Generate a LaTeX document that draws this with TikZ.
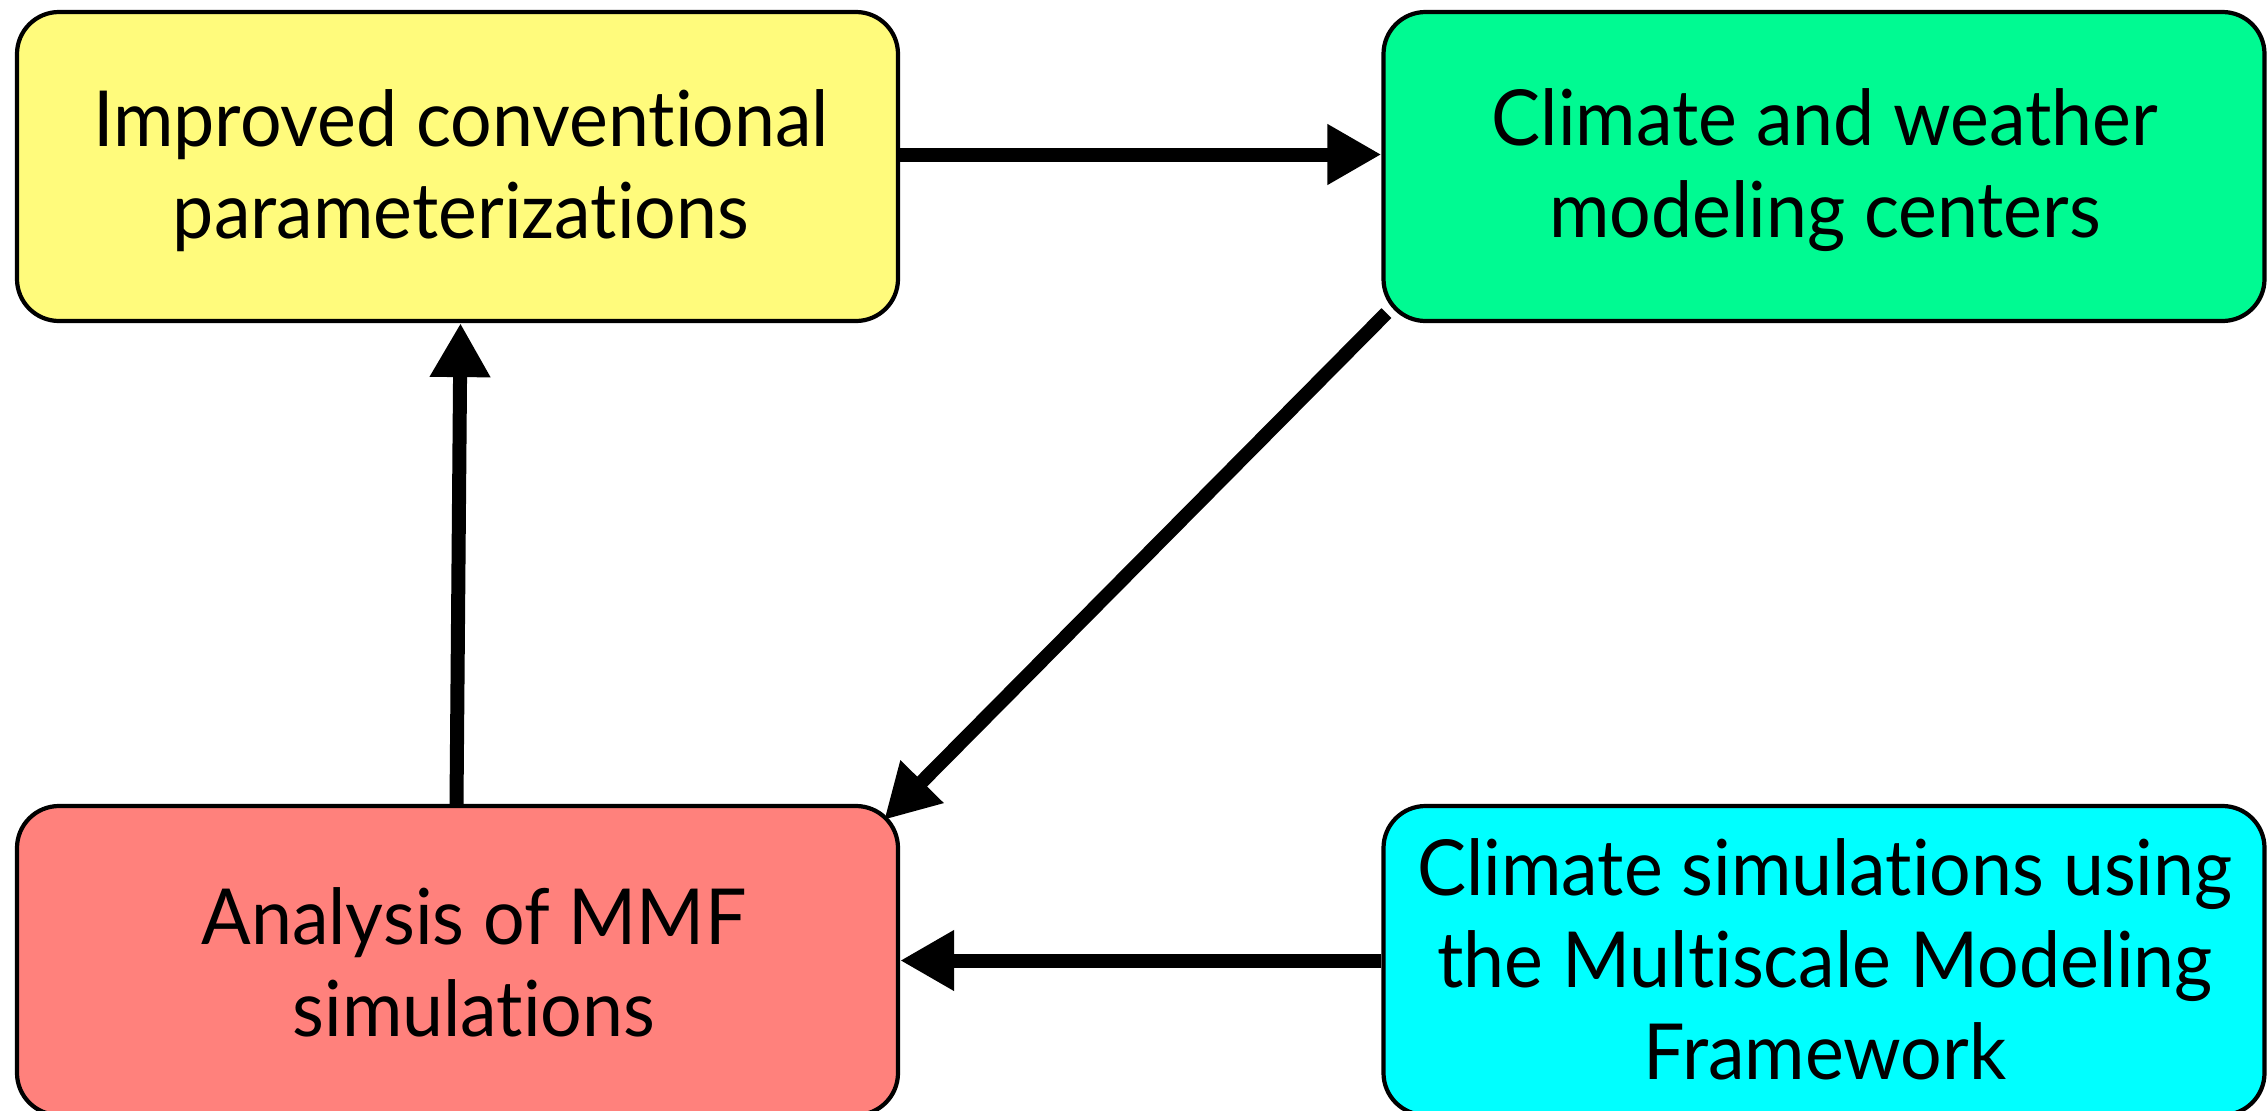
\documentclass[tikz,border=0pt]{standalone}
\usepackage{fontspec}
\setmainfont{Lato}[FakeStretch=0.95, Ligatures=CommonOff]
\usetikzlibrary{arrows.meta}
\definecolor{cyel}{HTML}{FFFB7C}
\definecolor{cgrn}{HTML}{00FA92}
\definecolor{cred}{HTML}{FF817C}
\definecolor{ccya}{HTML}{00FFFF}
\begin{document}
\begin{tikzpicture}[x=1cm,y=1cm,
  box/.style={draw=black, line width=1.2pt, rounded corners=0.42cm, minimum width=8.81cm, minimum height=3.09cm, inner sep=0pt},
  lbl/.style={align=center, font=\fontsize{22}{26.2}\selectfont, inner sep=0pt},
  arr/.style={line width=0.14cm, -{Triangle[length=0.54cm,width=0.57cm]}}]
\useasboundingbox (0,0) rectangle (22.68,-11.11);
\node[box, fill=cyel] (yel) at (4.575,-1.665) {};
\node[box, fill=cgrn] (grn) at (18.24,-1.665) {};
\node[box, fill=cred] (red) at (4.575,-9.605) {};
\node[box, fill=ccya] (cya) at (18.24,-9.605) {};
\node[lbl] (yeltxt) at (4.61,-1.705) {Improved conventional\\parameterizations};
\node[lbl] (grntxt) at (18.25,-1.705) {Climate and weather\\modeling centers};
\node[lbl] (redtxt) at (4.74,-9.62) {Analysis of MMF\\simulations};
\node[lbl] (cyatxt) at (18.25,-9.59) {Climate simulations using\\the Multiscale Modeling\\Framework};
\draw[arr] ([yshift=0.12cm]yel.east) -- ([yshift=0.12cm]grn.west);
\draw[arr] ([xshift=0.05cm,yshift=0.1cm]grn.south west) -- ([xshift=-0.16cm,yshift=-0.16cm]red.north east);
\draw[arr] ([xshift=-0.01cm]red.north) -- ([xshift=0.03cm]yel.south);
\draw[arr] (cya.west) -- (red.east);
\end{tikzpicture}
\end{document}
